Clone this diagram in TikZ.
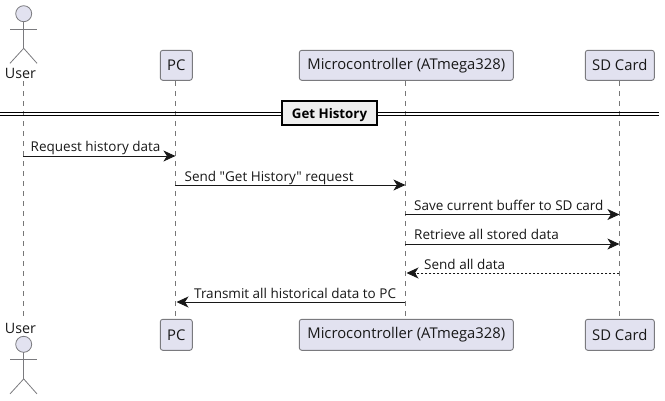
\documentclass[tikz,border=0pt]{standalone}
\usepackage{fontspec}
\newfontfamily\plainfont{Open Sans}
\usetikzlibrary{arrows.meta}
\definecolor{partfill}{HTML}{E2E2F0}
\definecolor{partline}{HTML}{7A7A7E}
\definecolor{lifeline}{HTML}{777777}
\definecolor{inkdark}{HTML}{181818}
\definecolor{divfill}{HTML}{EEEEEE}
\tikzset{
  partbox/.style={draw=partline,fill=partfill,rounded corners=2.5bp,line width=0.9bp,inner sep=0pt,font=\plainfont\fontsize{14.8bp}{16bp}\selectfont,text=inkdark,anchor=center},
  lifedash/.style={draw=lifeline,line width=0.8bp,dash pattern=on 5bp off 5bp},
  msg/.style={draw=inkdark,line width=0.9bp,-{Stealth[length=12bp,width=11bp,inset=3.5bp]}},
  msgdash/.style={msg,dash pattern=on 2bp off 2bp},
  msglabel/.style={inner sep=0pt,font=\plainfont\fontsize{13.5bp}{15bp}\selectfont,text=inkdark,anchor=base west},
  actorline/.style={draw=partline,line width=0.8bp},
  actorname/.style={inner sep=0pt,font=\plainfont\fontsize{14.3bp}{16bp}\selectfont,text=inkdark},
  divline/.style={draw=black,line width=0.9bp},
  divbox/.style={draw=black,fill=divfill,line width=1.6bp,minimum width=95bp,minimum height=24bp,inner sep=0pt,text height=12bp,text depth=0.6bp,font=\plainfont\bfseries\fontsize{13.3bp}{15bp}\selectfont,text=black}
}
\begin{document}
\begin{tikzpicture}[x=1bp,y=-1bp]
\useasboundingbox (0,0) rectangle (665,400);
% participants
\node[actorname] (ut) at (20.5,73.5) {User};
\node[actorname] (ub) at (20.5,328) {User};
\node[partbox,minimum width=32bp,minimum height=30bp] (pt) at (176.3,65.3) {PC};
\node[partbox,minimum width=32bp,minimum height=31bp] (pb) at (176.3,334.8) {PC};
\node[partbox,minimum width=214bp,minimum height=30bp] (mt) at (406.3,65.3) {Microcontroller (ATmega328)};
\node[partbox,minimum width=214bp,minimum height=31bp] (mb) at (406.3,334.8) {Microcontroller (ATmega328)};
\node[partbox,minimum width=69bp,minimum height=30bp] (st) at (619.8,65.3) {SD Card};
\node[partbox,minimum width=69bp,minimum height=31bp] (sb) at (619.8,334.8) {SD Card};
% lifelines
\coordinate (ul1) at (23.4,81);
\coordinate (ul2) at (23.4,317);
\draw[lifedash] (ul1) -- (ul2);
\coordinate (pl1) at (175.4,81);
\coordinate (pl2) at (175.4,319);
\draw[lifedash] (pl1) -- (pl2);
\coordinate (ml1) at (405.4,81);
\coordinate (ml2) at (405.4,319);
\draw[lifedash] (ml1) -- (ml2);
\coordinate (sl1) at (619.4,81);
\coordinate (sl2) at (619.4,319);
\draw[lifedash] (sl1) -- (sl2);
% divider
\coordinate (dl) at (0,114);
\coordinate (dr) at (659,114);
\draw[divline] ([yshift=1.4bp]dl) -- ([yshift=1.4bp]dr);
\draw[divline] ([yshift=-1.4bp]dl) -- ([yshift=-1.4bp]dr);
\node[divbox] (dv) at (329.5,112.8) {Get History};
% actors
\foreach \n/\hy in {a/13.7,b/344.3}{
  \draw[actorline,fill=partfill] (23.7,\hy) circle (8bp);
  \draw[actorline] (23.7,\hy+8) -- (23.7,\hy+34.6);
  \draw[actorline] (10,\hy+15.3) -- (37,\hy+15.3);
  \draw[actorline] (10,\hy+49.6) -- (23.7,\hy+34.6) -- (37,\hy+49.6);
}
% messages
\coordinate (a1) at (23.4,156); \coordinate (b1) at (175.4,156);
\draw[msg] (a1) -- (b1);
\node[msglabel] (t1) at (30.5,151) {Request history data};
\coordinate (a2) at (175.4,185); \coordinate (b2) at (405.4,185);
\draw[msg] (a2) -- (b2);
\node[msglabel] (t2) at (184.5,181) {Send "Get History" request};
\coordinate (a3) at (405.4,214.5); \coordinate (b3) at (619.4,214.5);
\draw[msg] (a3) -- (b3);
\node[msglabel] (t3) at (414,210) {Save current buffer to SD card};
\coordinate (a4) at (405.4,244); \coordinate (b4) at (619.4,244);
\draw[msg] (a4) -- (b4);
\node[msglabel] (t4) at (414,239) {Retrieve all stored data};
\coordinate (a5) at (619.4,273); \coordinate (b5) at (406.5,273);
\draw[msgdash] (a5) -- (b5);
\node[msglabel] (t5) at (424,269) {Send all data};
\coordinate (a6) at (405.4,302); \coordinate (b6) at (176.5,302);
\draw[msg] (a6) -- (b6);
\node[msglabel] (t6) at (194,298.7) {Transmit all historical data to PC};
\end{tikzpicture}
\end{document}
